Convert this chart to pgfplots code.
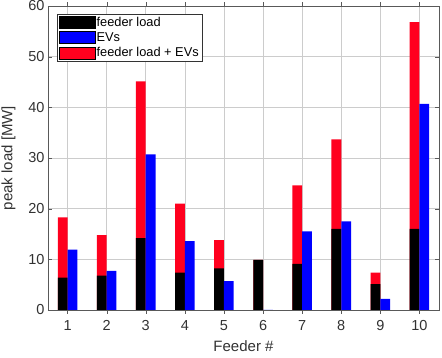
\documentclass[border=0pt]{standalone}
\usepackage{pgfplots}
\pgfplotsset{compat=1.18}
\usepackage{fontspec}
\setmainfont{Liberation Sans}
\definecolor{mred}{RGB}{255,0,30}
\definecolor{mblue}{RGB}{0,0,255}
\definecolor{txt}{RGB}{50,50,50}
\begin{document}
\begin{tikzpicture}
\useasboundingbox (-48pt,-48pt) rectangle (394pt,310pt);
\begin{axis}[
  at={(0,0)}, anchor=south west,
  scale only axis,
  width=391pt, height=304pt,
  xmin=0.5, xmax=10.5, ymin=0, ymax=60,
  xtick={1,...,10}, ytick={0,10,...,60},
  /pgf/number format/assume math mode=true,
  tick label style={font=\fontsize{14.5}{16}\selectfont, text=txt},
  xticklabel style={yshift=-3pt},
  label style={font=\fontsize{15}{17}\selectfont, text=txt},
  xlabel={Feeder \#}, ylabel={peak load [MW]},
  xlabel style={yshift=-3pt},
  ylabel style={yshift=6pt},
  grid=major,
  major grid style={gray!40, line width=0.6pt},
  axis line style={gray!70!black, line width=0.5pt},
  tick style={gray!70!black},
  tick align=inside,
  major tick length=4pt,
  ybar, bar width=0.25,
  legend style={at={(0,1)}, anchor=north west, xshift=9pt, yshift=-8pt,
    font=\fontsize{12.8}{14}\selectfont, draw=black!80, inner sep=2pt,
    row sep=2.5pt, nodes={inner sep=1pt}},
  legend cell align=left,
  legend image code/.code={\fill[#1] (0pt,-6pt) rectangle (36pt,6pt);},
]
\addlegendimage{fill=black}
\addlegendentry{feeder load}
\addlegendimage{fill=mblue}
\addlegendentry{EVs}
\addlegendimage{fill=mred}
\addlegendentry{feeder load + EVs}
% total (feeder load + EVs)
\addplot[forget plot, fill=mred, draw=none, bar shift=-0.125] coordinates {
(1,18.3) (2,14.8) (3,45.1) (4,21.0) (5,13.8) (6,9.9) (7,24.6) (8,33.7) (9,7.4) (10,56.8)};
% feeder load
\addplot[forget plot, fill=black, draw=none, bar shift=-0.125] coordinates {
(1,6.4) (2,6.8) (3,14.2) (4,7.4) (5,8.2) (6,9.9) (7,9.1) (8,16.0) (9,5.1) (10,16.0)};
% EVs
\addplot[forget plot, fill=mblue, draw=none, bar shift=0.125] coordinates {
(1,11.9) (2,7.7) (3,30.7) (4,13.6) (5,5.7) (6,0) (7,15.5) (8,17.5) (9,2.2) (10,40.7)};
\end{axis}
\end{tikzpicture}
\end{document}
